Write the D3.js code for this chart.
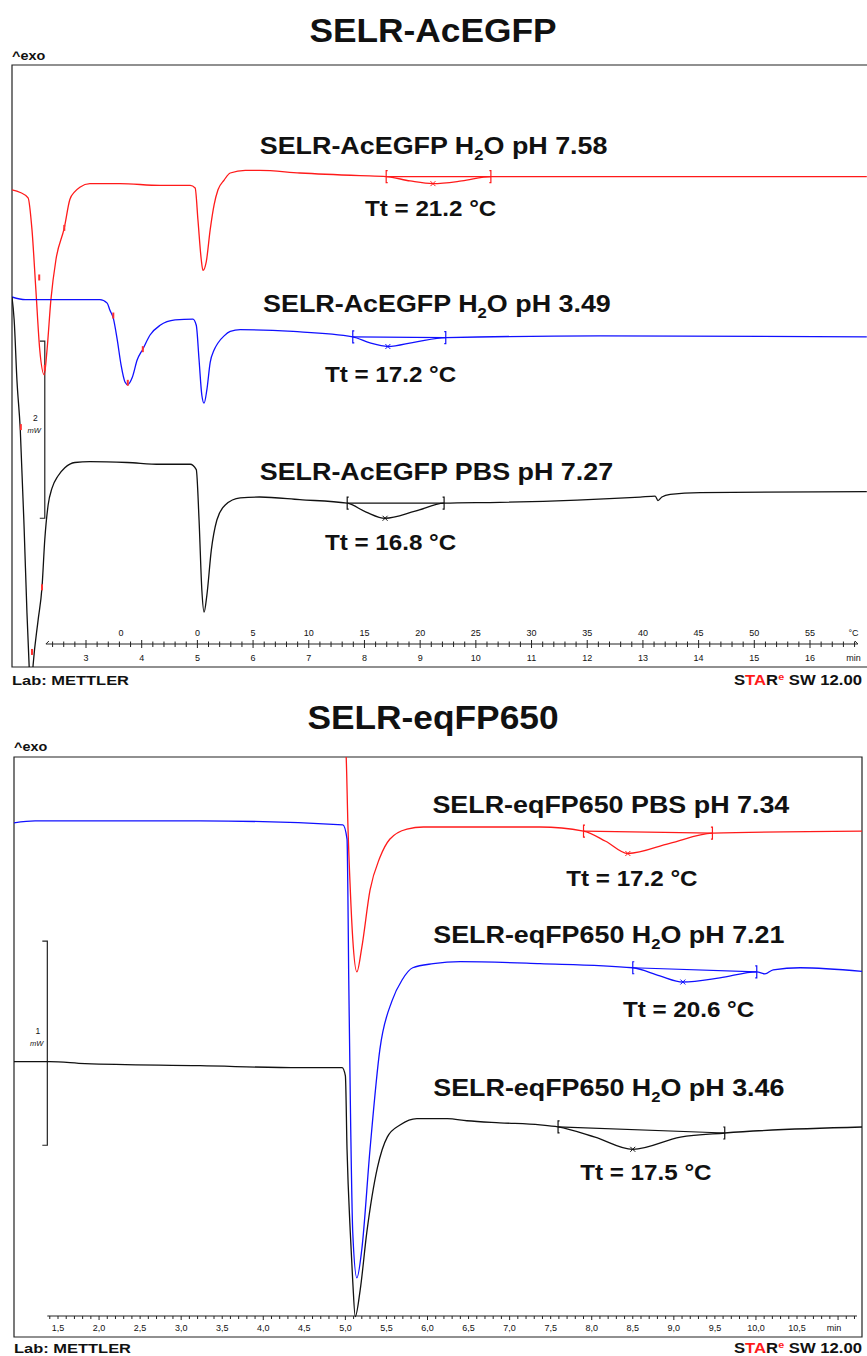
<!DOCTYPE html>
<html>
<head>
<meta charset="utf-8">
<script src="https://d3js.org/d3.v7.min.js"></script>
<style>
  body { margin: 0; background: #fff; }
  text { font-family: "Liberation Sans", Arial, sans-serif; fill: #111; }
</style>
</head>
<body>
<div id="chart"></div>
<script>
// ---- SELR-AcEGFP panel: [time (min), heat flow (mW, offset)]
const acRed = [[1.67,5.39],[1.82,5.36],[1.96,5.30],[2.03,4.94],[2.10,4.26],[2.17,3.58],[2.25,3.30],[2.30,3.58],[2.37,4.15],[2.46,4.60],[2.61,4.96],[2.71,5.28],[2.80,5.37],[2.89,5.42],[3.07,5.46],[3.61,5.46],[4.33,5.44],[4.87,5.44],[4.96,5.41],[5.01,5.05],[5.07,4.60],[5.10,4.48],[5.16,4.58],[5.23,4.94],[5.30,5.22],[5.37,5.39],[5.48,5.50],[5.59,5.58],[5.86,5.61],[6.12,5.61],[6.84,5.58],[7.92,5.55],[8.39,5.54],[8.82,5.49],[9.23,5.46],[9.75,5.49],[10.27,5.54],[12.23,5.54],[14.03,5.54],[17.02,5.54]];
const acBlue = [[1.67,4.18],[1.91,4.15],[3.25,4.15],[3.38,4.11],[3.43,4.03],[3.49,3.94],[3.56,3.70],[3.63,3.41],[3.70,3.22],[3.75,3.19],[3.83,3.27],[3.92,3.47],[4.02,3.59],[4.15,3.75],[4.33,3.86],[4.60,3.92],[4.92,3.93],[4.98,3.86],[5.03,3.47],[5.08,3.07],[5.12,2.98],[5.17,3.13],[5.23,3.44],[5.30,3.58],[5.37,3.66],[5.48,3.74],[5.59,3.79],[5.77,3.81],[6.72,3.79],[7.79,3.73],[8.10,3.66],[8.42,3.62],[8.91,3.67],[9.46,3.72],[12.23,3.74],[17.02,3.73]];
const acBlack = [[1.67,4.18],[1.71,3.92],[1.76,3.24],[1.82,2.68],[1.89,1.55],[1.94,0.61],[1.98,0.0],[2.01,-0.35],[2.05,0.02],[2.14,0.53],[2.21,0.90],[2.26,1.44],[2.32,1.83],[2.39,2.02],[2.50,2.16],[2.62,2.25],[2.80,2.31],[3.07,2.32],[3.74,2.31],[4.33,2.29],[4.87,2.29],[4.98,2.23],[5.03,1.66],[5.08,0.87],[5.12,0.62],[5.17,0.81],[5.25,1.32],[5.35,1.66],[5.50,1.83],[5.77,1.91],[6.12,1.92],[6.84,1.89],[7.69,1.85],[8.03,1.75],[8.37,1.68],[8.91,1.76],[9.43,1.85],[10.43,1.86],[12.95,1.92],[13.22,1.93],[13.27,1.88],[13.34,1.92],[13.49,1.95],[14.03,1.97],[17.02,1.98]];
const acLimits = [[8.39,9.23,10.27],[7.79,8.42,9.46],[7.69,8.37,9.43]];
const acNames = ["SELR-AcEGFP H2O pH 7.58","SELR-AcEGFP H2O pH 3.49","SELR-AcEGFP PBS pH 7.27"];
const acTt = ["Tt = 21.2 °C","Tt = 17.2 °C","Tt = 16.8 °C"];
const acNameAt = [[6.12,5.79],[6.18,4.01],[6.12,2.11]];
const acTtAt = [[8.01,5.09],[7.29,3.22],[7.29,1.32]];
const acCursors = [[2.16,4.40],[2.61,4.96],[2.26,3.38],[1.83,2.71],[3.49,3.97],[3.75,3.21],[4.02,3.59],[2.21,0.90],[2.03,0.17]];
const acMinTicks = d3.range(3, 17);
const acTempLabels = ["0","0","5","10","15","20","25","30","35","40","45","50","55"];
const acTempAt = [3.63,5,6,7,8,9,10,11,12,13,14,15,16];

// ---- SELR-eqFP650 panel
const eqRed = [[5.00,2.90],[5.01,2.84],[5.03,2.52],[5.06,2.19],[5.09,1.95],[5.14,1.79],[5.20,1.91],[5.30,2.19],[5.42,2.35],[5.54,2.44],[5.75,2.49],[5.95,2.50],[6.88,2.50],[7.37,2.50],[7.90,2.48],[8.17,2.43],[8.44,2.37],[8.95,2.42],[9.47,2.47],[11.35,2.48]];
const eqBlue = [[0.96,2.52],[1.22,2.53],[1.89,2.53],[3.23,2.53],[4.97,2.51],[5.02,2.44],[5.03,2.19],[5.04,1.78],[5.06,1.16],[5.09,0.51],[5.14,0.29],[5.20,0.43],[5.30,0.92],[5.42,1.41],[5.57,1.65],[5.69,1.75],[5.82,1.81],[6.07,1.83],[6.40,1.84],[7.37,1.83],[8.50,1.81],[8.83,1.77],[9.11,1.74],[9.56,1.76],[10.01,1.79],[10.11,1.78],[10.21,1.80],[10.54,1.81],[11.35,1.79]];
const eqBlack = [[0.96,1.35],[1.40,1.35],[1.83,1.34],[3.23,1.33],[4.45,1.32],[4.96,1.32],[5.00,1.28],[5.02,0.92],[5.06,0.51],[5.09,0.27],[5.12,0.10],[5.18,0.23],[5.26,0.51],[5.39,0.83],[5.51,0.98],[5.67,1.04],[5.87,1.07],[6.24,1.07],[6.48,1.06],[6.88,1.05],[7.37,1.04],[7.59,1.03],[8.04,0.98],[8.50,0.92],[9.08,0.98],[9.62,1.00],[11.35,1.03]];
const eqLimits = [[7.90,8.44,9.47],[8.50,9.11,10.01],[7.59,8.50,9.62]];
const eqNames = ["SELR-eqFP650 PBS pH 7.34","SELR-eqFP650 H2O pH 7.21","SELR-eqFP650 H2O pH 3.46"];
const eqTt = ["Tt = 17.2 °C","Tt = 20.6 °C","Tt = 17.5 °C"];
const eqNameAt = [[6.06,2.57],[6.07,1.93],[6.07,1.18]];
const eqTtAt = [[7.69,2.21],[8.38,1.57],[7.86,0.77]];
const eqMinTicks = d3.range(1.5, 10.51, 0.5);

const colors = ["#ff1a1a", "#1010ff", "#111"];

const svg = d3.select("#chart").append("svg")
    .attr("width", 867).attr("height", 1356);

function yAt(data, m) {
    const i = d3.bisector(d => d[0]).left(data, m);
    if (i <= 0) return data[0][1];
    if (i >= data.length) return data[data.length - 1][1];
    const a = data[i - 1], b = data[i];
    return a[1] + (b[1] - a[1]) * (m - a[0]) / (b[0] - a[0]);
}

function label(g, str, px, py, size, sx) {
    const t = g.append("text")
        .attr("transform", `translate(${px},${py}) scale(${sx},1)`)
        .attr("font-size", size).attr("font-weight", "bold");
    const parts = str.split("H2O");
    if (parts.length === 2) {
        t.append("tspan").text(parts[0] + "H");
        t.append("tspan").attr("font-size", size * 0.62).attr("dy", size * 0.24).text("2");
        t.append("tspan").attr("dy", -size * 0.24).text("O" + parts[1]);
    } else {
        t.text(str);
    }
}

function drawPanel(p) {
    const g = svg.append("g");
    const x = d3.scaleLinear().domain(p.xd).range(p.xr);
    const y = d3.scaleLinear().domain(p.yd).range([p.box.b, p.box.t]);

    // title and ^exo
    g.append("text").attr("transform", `translate(433,${p.titleY}) scale(1.07,1)`)
        .attr("text-anchor", "middle").attr("font-size", 33).attr("font-weight", "bold").text(p.title);
    g.append("text").attr("transform", `translate(${p.box.l},${p.exoY}) scale(1.15,1)`)
        .attr("font-size", 12.5).attr("font-weight", "bold").text("^exo");

    // frame
    g.append("path").attr("d", p.frame)
        .attr("stroke", "#222").attr("stroke-width", 1.2).attr("fill", "none");

    // clip
    const cid = "clip" + p.id;
    svg.append("clipPath").attr("id", cid).append("rect")
        .attr("x", p.box.l).attr("y", p.box.t)
        .attr("width", p.box.r - p.box.l).attr("height", p.box.b - p.box.t);

    // axis
    const ax = g.append("g").attr("stroke", "#222").attr("stroke-width", 1).attr("fill", "none");
    const x0 = x(p.axisFrom), x1 = x(p.axisTo);
    ax.append("line").attr("x1", x0).attr("x2", x1)
        .attr("y1", p.axisY).attr("y2", p.axisY);
    if (p.up) {
        ax.append("path").attr("d", `M${x0},${p.axisY}l3,-3`);
        ax.append("path").attr("d", `M${x1},${p.axisY}l-3,-3`);
    }
    p.minor.forEach(m => {
        const major = Math.abs(m - Math.round(m)) < 1e-6;
        ax.append("line").attr("x1", x(m)).attr("x2", x(m))
            .attr("y1", p.axisY - (p.up ? (major ? 4 : 2.5) : 0))
            .attr("y2", p.axisY + (major ? 4 : 3));
    });
    p.minLabels.forEach(m => {
        g.append("text").attr("x", x(m)).attr("y", p.axisY + p.minDy)
            .attr("text-anchor", "middle").attr("font-size", 9).attr("fill", "#222")
            .text(p.fmt(m));
    });
    g.append("text").attr("x", x(p.unitAt)).attr("y", p.axisY + p.minDy)
        .attr("text-anchor", "middle").attr("font-size", 9).text("min");
    if (p.temp) {
        p.temp.at.forEach((m, i) => {
            g.append("text").attr("x", x(m)).attr("y", p.axisY - 8)
                .attr("text-anchor", "middle").attr("font-size", 9).attr("fill", "#222")
                .text(p.temp.labels[i]);
        });
        g.append("text").attr("x", x(p.unitAt)).attr("y", p.axisY - 8)
            .attr("text-anchor", "middle").attr("font-size", 9).text("°C");
    }

    // scale bar
    const sb = p.bar;
    const bx = x(sb.at), by1 = y(sb.from + sb.value), by2 = y(sb.from);
    g.append("path").attr("d", `M${bx - 5},${by1}H${bx}V${by2}H${bx - 5}`)
        .attr("fill", "none").attr("stroke", "#222").attr("stroke-width", 1.2);
    const mid = (by1 + by2) / 2;
    g.append("text").attr("x", bx - 7).attr("y", mid - 9).attr("text-anchor", "end")
        .attr("font-size", 8.5).text(sb.value);
    g.append("text").attr("x", bx - 4).attr("y", mid + 3).attr("text-anchor", "end")
        .attr("font-size", 7.5).attr("font-style", "italic").attr("fill", "#444").text("mW");

    // curves
    const line = d3.line().x(d => x(d[0])).y(d => y(d[1])).curve(d3.curveMonotoneX);
    const cg = g.append("g").attr("clip-path", `url(#${cid})`);
    p.series.forEach(s => {
        cg.append("path").datum(s.data).attr("d", line)
            .attr("fill", "none").attr("stroke", s.color).attr("stroke-width", 1.3);
    });

    // small red cursor marks on the melting curves
    p.cursors.forEach(c => {
        cg.append("line").attr("x1", x(c[0])).attr("x2", x(c[0]))
            .attr("y1", y(c[1]) - 3).attr("y2", y(c[1]) + 3)
            .attr("stroke", "#ff3030").attr("stroke-width", 2);
    });

    // transition evaluation: limits, baseline, peak mark
    p.series.forEach(s => {
        const [a, pk, b] = s.limits;
        const ya = y(yAt(s.data, a)), yb = y(yAt(s.data, b));
        const xp = x(pk), yp = y(yAt(s.data, pk));
        const ev = g.append("g").attr("stroke", s.color).attr("fill", "none").attr("stroke-width", 1.2);
        ev.append("line").attr("x1", x(a)).attr("y1", ya).attr("x2", x(b)).attr("y2", yb);
        [[x(a), ya, 1], [x(b), yb, -1]].forEach(([tx, ty, dir]) => {
            ev.append("path").attr("d",
                `M${tx + dir * 1.5},${ty - 6}H${tx}V${ty + 6}H${tx + dir * 1.5}`);
        });
        ev.append("path").attr("d",
            `M${xp - 2.5},${yp - 2.5}L${xp + 2.5},${yp + 2.5}M${xp - 2.5},${yp + 2.5}L${xp + 2.5},${yp - 2.5}`)
            .attr("stroke-width", 1);
    });

    // labels
    p.series.forEach(s => {
        label(g, s.name, x(s.nameAt[0]), y(s.nameAt[1]), 24, 1.12);
        label(g, s.tt, x(s.ttAt[0]), y(s.ttAt[1]), 22, 1.1);
    });

    // footer
    g.append("text").attr("x", p.box.l).attr("y", p.footY)
        .attr("font-size", 13.5).attr("font-weight", "bold")
        .attr("textLength", 117).attr("lengthAdjust", "spacingAndGlyphs").text("Lab: METTLER");
    const st = g.append("text").attr("x", 734).attr("y", p.footY)
        .attr("font-size", 14).attr("font-weight", "bold")
        .attr("textLength", 128).attr("lengthAdjust", "spacingAndGlyphs");
    st.append("tspan").text("S");
    st.append("tspan").attr("fill", "#ff1a1a").text("TA");
    st.append("tspan").text("R");
    st.append("tspan").attr("fill", "#ff1a1a").attr("font-size", 9).attr("dy", -5).text("e");
    st.append("tspan").attr("dy", 5).text(" SW 12.00");
}

function makeSeries(datas, limits, names, tts, nameAt, ttAt) {
    return datas.map((d, i) => ({
        data: d, limits: limits[i], name: names[i], tt: tts[i],
        nameAt: nameAt[i], ttAt: ttAt[i], color: colors[i]
    }));
}

drawPanel({
    id: "top",
    title: "SELR-AcEGFP", titleY: 42, exoY: 60,
    box: {l: 12, t: 65, r: 867, b: 667},
    frame: "M867,65H12V667H867",
    xd: [3, 16], xr: [86, 810], yd: [0, 6.8],
    axisY: 644, axisFrom: 2.28, axisTo: 16.86, up: true,
    minor: d3.range(12, 85).map(i => i / 5),
    minLabels: acMinTicks, minDy: 17, fmt: d => d, unitAt: 16.78,
    temp: {labels: acTempLabels, at: acTempAt},
    bar: {at: 2.26, from: 1.68, value: 2},
    cursors: acCursors,
    series: makeSeries([acRed, acBlue, acBlack], acLimits, acNames, acTt, acNameAt, acTtAt),
    footY: 685
});

drawPanel({
    id: "bottom",
    title: "SELR-eqFP650", titleY: 729, exoY: 751,
    box: {l: 14, t: 757, r: 862, b: 1337},
    frame: "M14,757H862V1337H14Z",
    xd: [1.5, 10.5], xr: [58, 797], yd: [0, 2.843],
    axisY: 1316, axisFrom: 1.37, axisTo: 11.23, up: false,
    minor: d3.range(14, 113).map(i => i / 10),
    minLabels: eqMinTicks, minDy: 15, fmt: d => d.toFixed(1).replace(".", ","), unitAt: 10.95,
    temp: null,
    bar: {at: 1.37, from: 0.94, value: 1},
    cursors: [],
    series: makeSeries([eqRed, eqBlue, eqBlack], eqLimits, eqNames, eqTt, eqNameAt, eqTtAt),
    footY: 1353
});
</script>
</body>
</html>
